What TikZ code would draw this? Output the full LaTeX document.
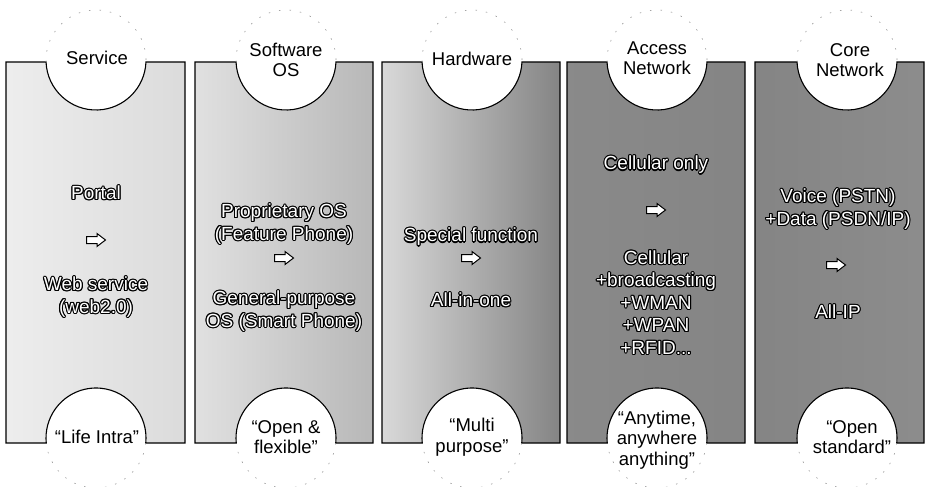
\documentclass[tikz,border=0pt]{standalone}
\usepackage{fontspec}
\setmainfont{Liberation Sans}

\tikzset{
  panelline/.style={draw=black, line width=1.1pt},
  ghost/.style={draw=black!40, line width=0.6pt, dash pattern=on 1.5pt off 9pt},
  tag/.style={font=\fontsize{18.5}{20.5}\selectfont, align=center, inner sep=0pt},
  body/.style={font=\fontsize{19}{22.5}\selectfont, align=center, inner sep=0pt},
  arrowglyph/.style={draw=black, fill=white, line width=1pt, line join=miter},
}

% panel: #1 left edge, #2 right edge, #3 circle centre x, #4/#5 shade at left/right
\newcommand\drawpanel[5]{%
  \shadedraw[left color=#4, right color=#5, panelline]
    (#1,62) -- ({#3-49.96},62)
    arc[start angle=177.71, end angle=2.29, radius=50] -- (#2,62)
    -- (#2,443) -- ({#3+49.75},443)
    arc[start angle=5.74, end angle=-185.74, radius=50] -- (#1,443) -- cycle;
  \draw[ghost] ({#3-49.96},62) arc[start angle=177.71, end angle=362.29, radius=50];
  \draw[ghost] ({#3+49.75},443) arc[start angle=5.74, end angle=174.26, radius=50];
}

% white lettering with a thin black outline
\newcommand\outlined[4]{%
  \foreach \a in {0,30,...,330}
    \node[body, text=black, shift={(\a:1.1)}] at (#2,#3) {#4};
  \node[body, text=white] (#1) at (#2,#3) {#4};
}

% hollow block arrow centred on a named coordinate
\newcommand\blockarrow[3]{%
  \coordinate (#1) at (#2,#3);
  \draw[arrowglyph] (#1) ++(-9.5,-3.5) -- ++(10.5,0) -- ++(0,-3)
    -- ++(8.5,6.5) -- ++(-8.5,6.5) -- ++(0,-3) -- ++(-10.5,0) -- cycle;
}

\begin{document}
\begin{tikzpicture}[x=1pt, y=-1pt]
  \useasboundingbox (0,0) rectangle (929,487);

  \drawpanel{6}{185}{96}{black!7}{black!14}
  \drawpanel{195}{373}{286}{black!12}{black!28}
  \drawpanel{382}{560}{472}{black!15}{black!48}
  \drawpanel{567}{745}{657}{black!46}{black!48}
  \drawpanel{755}{924}{847}{black!48}{black!45}

  % headings in the upper circles
  \node[tag] (svc)  at (97,58)  {Service};
  \node[tag] (sw)   at (286,60) {Software\\OS};
  \node[tag] (hw)   at (472,59) {Hardware};
  \node[tag] (acc)  at (657,58) {Access\\Network};
  \node[tag] (core) at (850,60) {Core\\Network};

  % slogans in the lower circles
  \node[tag] (life)  at (97,437)  {“Life Intra”};
  \node[tag] (open)  at (286,437) {“Open \&\\flexible”};
  \node[tag] (multi) at (472,437) {“Multi\\purpose”};
  \node[tag] (any)   at (657,440) {“Anytime,\\anywhere\\anything”};
  \node[tag] (std)   at (852,437) {“Open\\standard”};

  % service
  \outlined{svcA}{96}{193}{Portal}
  \blockarrow{svcArr}{96}{240}
  \outlined{svcB}{96}{297}{Web service\\(web2.0)}

  % software
  \outlined{swA}{284}{224}{Proprietary OS\\(Feature Phone)}
  \blockarrow{swArr}{284}{258}
  \outlined{swB}{284}{311}{General-purpose\\OS (Smart Phone)}

  % hardware
  \outlined{hwA}{471}{237}{Special function}
  \blockarrow{hwArr}{471}{258}
  \outlined{hwB}{471}{300}{All-in-one}

  % access network
  \outlined{accA}{656}{165}{Cellular only}
  \blockarrow{accArr}{656}{210}
  \outlined{accB}{656}{302.5}{Cellular\\+broadcasting\\+WMAN\\+WPAN\\+RFID...}

  % core network
  \outlined{coreA}{838}{209}{Voice (PSTN)\\+Data (PSDN/IP)}
  \blockarrow{coreArr}{836}{265}
  \outlined{coreB}{838}{312}{All-IP}
\end{tikzpicture}
\end{document}
